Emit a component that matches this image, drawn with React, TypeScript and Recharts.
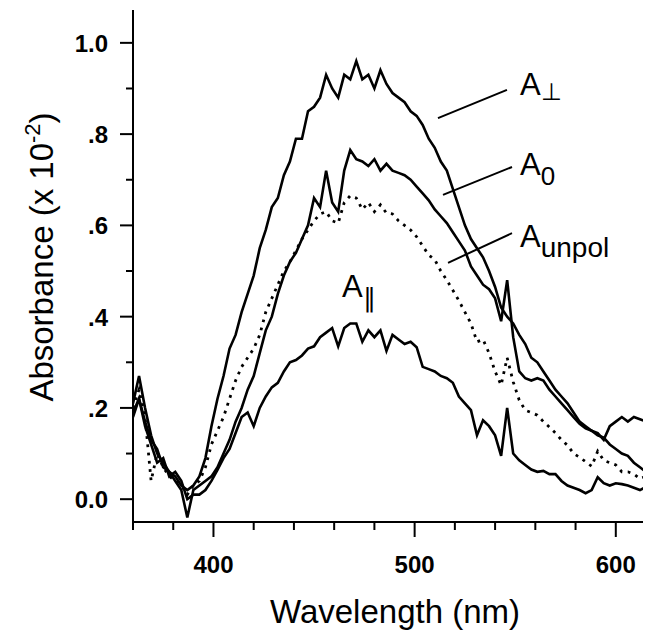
import React from "react";
import { LineChart, Line, XAxis, YAxis, ReferenceLine, ReferenceDot } from "recharts";

// wavelength grid (nm), 3 nm steps
const wavelengths = [
  360, 363, 366, 369, 372, 375, 378, 381, 384, 387,
  390, 393, 396, 399, 402, 405, 408, 411, 414, 417,
  420, 423, 426, 429, 432, 435, 438, 441, 444, 447,
  450, 453, 456, 459, 462, 465, 468, 471, 474, 477,
  480, 483, 486, 489, 492, 495, 498, 501, 504, 507,
  510, 513, 516, 519, 522, 525, 528, 531, 534, 537,
  540, 543, 546, 549, 552, 555, 558, 561, 564, 567,
  570, 573, 576, 579, 582, 585, 588, 591, 594, 597,
  600, 603, 606, 609, 612, 615, 618,
];

// absorbance (x 10^-2)
const aPerp = [
  0.21, 0.27, 0.2, 0.14, 0.1, 0.08, 0.06, 0.05, 0.03, 0.02,
  0.03, 0.05, 0.09, 0.16, 0.22, 0.27, 0.33, 0.36, 0.41, 0.45,
  0.49, 0.55, 0.59, 0.64, 0.66, 0.71, 0.74, 0.79, 0.79, 0.85,
  0.86, 0.88, 0.93, 0.9, 0.88, 0.93, 0.92, 0.96, 0.92, 0.93,
  0.9, 0.94, 0.91, 0.89, 0.88, 0.87, 0.85, 0.84, 0.82, 0.79,
  0.77, 0.74, 0.72, 0.68, 0.64, 0.6, 0.57, 0.55, 0.53, 0.5,
  0.465, 0.42, 0.4, 0.385, 0.36, 0.34, 0.31, 0.3, 0.28, 0.26,
  0.24, 0.225, 0.21, 0.19, 0.17, 0.16, 0.15, 0.145, 0.13, 0.16,
  0.17, 0.18, 0.17, 0.18, 0.175, 0.17, 0.15,
];

const aZero = [
  0.19, 0.22, 0.17, 0.13, 0.11, 0.07, 0.06, 0.04, 0.02, -0.04,
  0.02, 0.03, 0.04, 0.05, 0.07, 0.1, 0.13, 0.17, 0.2, 0.24,
  0.27, 0.32, 0.37, 0.4, 0.45, 0.49, 0.52, 0.54, 0.57, 0.6,
  0.66, 0.64, 0.72, 0.65, 0.63, 0.72, 0.765, 0.745, 0.74, 0.73,
  0.745, 0.72, 0.735, 0.72, 0.715, 0.71, 0.7, 0.685, 0.67, 0.655,
  0.635, 0.62, 0.605, 0.585, 0.565, 0.545, 0.51, 0.49, 0.47, 0.46,
  0.44, 0.39, 0.48, 0.355, 0.28, 0.265, 0.26, 0.265, 0.26, 0.24,
  0.225, 0.21, 0.195, 0.18, 0.165, 0.155, 0.15, 0.14, 0.135, 0.12,
  0.11, 0.1, 0.095, 0.08, 0.07, 0.06, 0.045,
];

const aUnpol = [
  0.2, 0.24, 0.18, 0.04, 0.1, 0.07, 0.05, 0.04, 0.03, 0.01,
  0.03, 0.04, 0.07, 0.12, 0.15, 0.18, 0.22, 0.26, 0.29, 0.31,
  0.33, 0.36, 0.41, 0.44, 0.47, 0.5, 0.52, 0.545, 0.57, 0.59,
  0.61, 0.625, 0.63, 0.61, 0.605, 0.65, 0.665, 0.66, 0.635, 0.65,
  0.63, 0.645, 0.627, 0.625, 0.61, 0.6, 0.59, 0.575, 0.555, 0.535,
  0.525, 0.5, 0.48, 0.458, 0.435, 0.41, 0.385, 0.345, 0.35, 0.32,
  0.28, 0.25, 0.31, 0.257, 0.217, 0.195, 0.19, 0.184, 0.17, 0.158,
  0.145, 0.13, 0.118, 0.1, 0.092, 0.082, 0.072, 0.105, 0.085, 0.08,
  0.075, 0.06, 0.06, 0.055, 0.045, 0.05, 0.055,
];

const aPar = [
  0.18, 0.22, 0.16, 0.12, 0.08, 0.09, 0.05, 0.06, 0.04, 0.0,
  0.01, 0.01, 0.02, 0.04, 0.064, 0.09, 0.11, 0.145, 0.18, 0.19,
  0.16, 0.2, 0.225, 0.245, 0.255, 0.28, 0.3, 0.305, 0.315, 0.33,
  0.335, 0.355, 0.365, 0.375, 0.335, 0.375, 0.385, 0.385, 0.345, 0.37,
  0.355, 0.37, 0.325, 0.36, 0.35, 0.34, 0.345, 0.333, 0.29, 0.285,
  0.28, 0.27, 0.265, 0.255, 0.225, 0.21, 0.195, 0.14, 0.173, 0.16,
  0.14, 0.095, 0.2, 0.1, 0.085, 0.075, 0.065, 0.06, 0.062, 0.055,
  0.055, 0.04, 0.03, 0.025, 0.02, 0.013, 0.02, 0.048, 0.035, 0.03,
  0.035, 0.033, 0.03, 0.025, 0.02, 0.027, 0.025,
];

const xTicks = [360, 380, 400, 420, 440, 460, 480, 500, 520, 540, 560, 580, 600];
const yTicks = [0, 0.1, 0.2, 0.3, 0.4, 0.5, 0.6, 0.7, 0.8, 0.9, 1.0];

// curve annotations, in data coordinates
const curveLabels = [
  { sub: "⊥", nm: 552.4, abs: 0.886 },
  { sub: "0", nm: 552.4, abs: 0.71 },
  { sub: "unpol", nm: 552.4, abs: 0.553 },
  { sub: "∥", nm: 463.9, abs: 0.443 },
];
const leaders = [
  { x1: 511.6, y1: 0.835, x2: 545.9, y2: 0.897 },
  { x1: 514.1, y1: 0.667, x2: 548.4, y2: 0.728 },
  { x1: 516.6, y1: 0.518, x2: 548.4, y2: 0.583 },
];

const data = wavelengths.map((wl, i) => ({
  wl,
  perp: aPerp[i],
  zero: aZero[i],
  unpol: aUnpol[i],
  par: aPar[i],
}));

const FONT = '"Liberation Sans", Arial, sans-serif';

const subStyle: Record<string, { size: number; dy: number }> = {
  "⊥": { size: 24, dy: 5 },
  "0": { size: 26, dy: 10 },
  unpol: { size: 28, dy: 10 },
  "∥": { size: 26, dy: 10 },
};

function XTick(props: any) {
  const { x, y, payload } = props;
  const major = payload.value % 100 === 0;
  return (
    <g>
      <line x1={x} y1={y} x2={x} y2={y + (major ? 15 : 8)} stroke="#000" strokeWidth={2} />
      {major && (
        <text x={x} y={y + 51} textAnchor="middle" fontSize={24} fontWeight="bold" fontFamily={FONT} fill="#000">
          {payload.value}
        </text>
      )}
    </g>
  );
}

function YTick(props: any) {
  const { x, y, payload } = props;
  const n = Math.round(payload.value * 10);
  const major = n % 2 === 0;
  const label = n === 0 ? "0.0" : n === 10 ? "1.0" : "." + n;
  return (
    <g>
      <line x1={x} y1={y} x2={x - (major ? 13 : 7)} y2={y} stroke="#000" strokeWidth={2} />
      {major && (
        <text x={x - 25} y={y + 9} textAnchor="end" fontSize={24} fontWeight="bold" fontFamily={FONT} fill="#000">
          {label}
        </text>
      )}
    </g>
  );
}

function YTitle(props: any) {
  const { viewBox } = props;
  const x = viewBox.x + 45;
  const y = viewBox.y + 247;
  return (
    <text x={x} y={y} transform={`rotate(-90 ${x} ${y})`} textAnchor="middle" fontSize={33} fontFamily={FONT} fill="#000">
      Absorbance (x 10
      <tspan fontSize={22} dy={-13}>-2</tspan>
      <tspan dy={13}>)</tspan>
    </text>
  );
}

function XTitle(props: any) {
  const { viewBox } = props;
  return (
    <text x={viewBox.x + 262} y={viewBox.y + 101} textAnchor="middle" fontSize={33} fontFamily={FONT} fill="#000">
      Wavelength (nm)
    </text>
  );
}

function curveLabelShape(sub: string) {
  const s = subStyle[sub];
  return (p: any) => (
    <text x={p.cx} y={p.cy} fontSize={31} fontFamily={FONT} fill="#000">
      A
      <tspan fontSize={s.size} dy={s.dy}>{sub}</tspan>
    </text>
  );
}

export default function App() {
  return (
    <div style={{ fontFamily: FONT, background: "#fff" }}>
      <LineChart width={643} height={622} data={data} margin={{ top: 2, right: 0, bottom: 0, left: 0 }}>
        <XAxis
          dataKey="wl"
          type="number"
          domain={[360, 617.5]}
          allowDataOverflow
          ticks={xTicks}
          tick={<XTick />}
          tickLine={false}
          tickSize={0}
          tickMargin={0}
          height={108}
          axisLine={{ stroke: "#000", strokeWidth: 2 }}
          label={{ content: XTitle }}
        />
        <YAxis
          type="number"
          domain={[-0.05, 1.072]}
          allowDataOverflow
          ticks={yTicks}
          tick={<YTick />}
          tickLine={false}
          tickSize={0}
          tickMargin={0}
          width={125}
          axisLine={{ stroke: "#000", strokeWidth: 2 }}
          label={{ content: YTitle }}
        />
        <Line type="linear" dataKey="perp" stroke="#000" strokeWidth={2.6} dot={false} isAnimationActive={false} />
        <Line type="linear" dataKey="zero" stroke="#000" strokeWidth={2.6} dot={false} isAnimationActive={false} />
        <Line
          type="linear"
          dataKey="unpol"
          stroke="#000"
          strokeWidth={2.8}
          strokeDasharray="2.8 5.5"
          dot={false}
          isAnimationActive={false}
        />
        <Line type="linear" dataKey="par" stroke="#000" strokeWidth={2.6} dot={false} isAnimationActive={false} />
        {leaders.map((l, i) => (
          <ReferenceLine
            key={"ld" + i}
            segment={[
              { x: l.x1, y: l.y1 },
              { x: l.x2, y: l.y2 },
            ]}
            stroke="#000"
            strokeWidth={2}
          />
        ))}
        {curveLabels.map((c) => (
          <ReferenceDot key={c.sub} x={c.nm} y={c.abs} r={0} shape={curveLabelShape(c.sub)} />
        ))}
      </LineChart>
    </div>
  );
}
